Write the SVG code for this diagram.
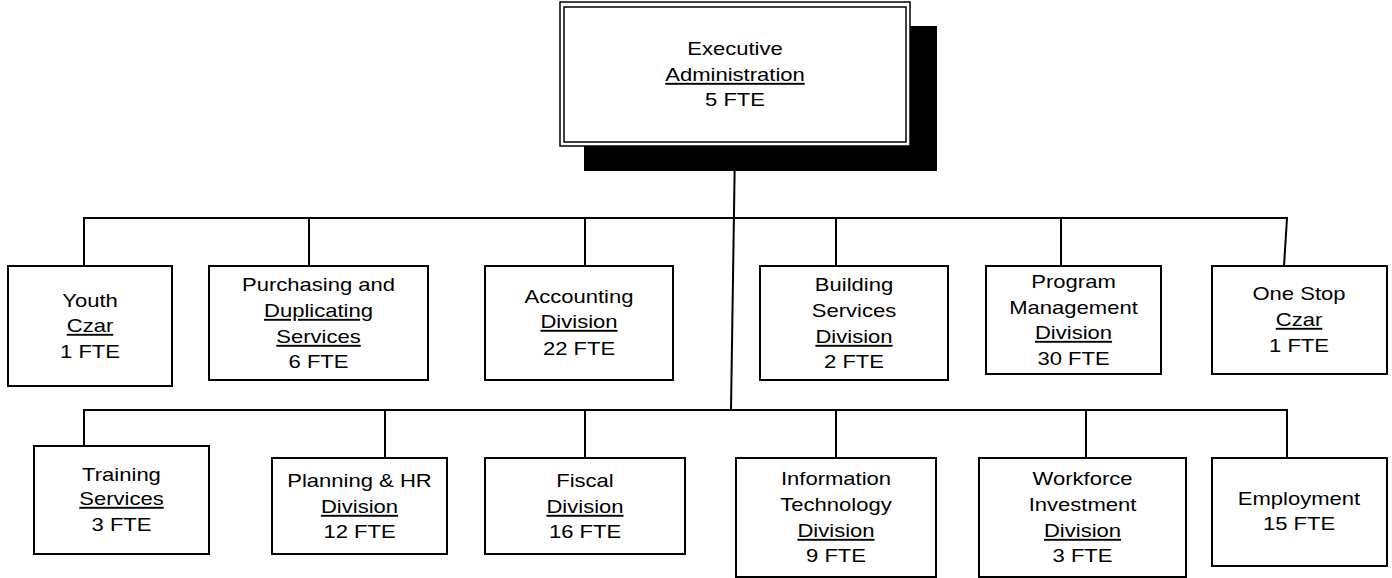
<svg xmlns="http://www.w3.org/2000/svg" width="1392" height="578" viewBox="0 0 1392 578">
<style>
.box{fill:#fff;stroke:#000;stroke-width:2}
.conn line{stroke:#000;stroke-width:2}
text{font-family:"Liberation Sans",Arial,sans-serif;font-size:19px;fill:#000;text-anchor:middle}
.u{text-decoration:underline}
</style>
<rect width="1392" height="578" fill="#fff"/>
<g id="connectors" class="conn">
<line x1="735" y1="146" x2="731" y2="410"/>
<line x1="83" y1="218" x2="1288" y2="218"/>
<line x1="84" y1="218" x2="84" y2="266"/>
<line x1="309" y1="218" x2="309" y2="266"/>
<line x1="585" y1="218" x2="585" y2="266"/>
<line x1="836" y1="218" x2="836" y2="266"/>
<line x1="1061" y1="218" x2="1061" y2="266"/>
<line x1="1287" y1="218" x2="1284" y2="266"/>
<line x1="83" y1="410" x2="1288" y2="410"/>
<line x1="84" y1="410" x2="84" y2="446"/>
<line x1="385" y1="410" x2="385" y2="458"/>
<line x1="585" y1="410" x2="585" y2="458"/>
<line x1="836" y1="410" x2="836" y2="458"/>
<line x1="1086" y1="410" x2="1086" y2="458"/>
<line x1="1287" y1="410" x2="1287" y2="458"/>
</g>
<g id="executive">
<rect x="584" y="26" width="353" height="145" fill="#000"/>
<rect x="560" y="2" width="350" height="144" fill="#fff" stroke="#000" stroke-width="1.5"/>
<rect x="564" y="7" width="342" height="135" fill="none" stroke="#000" stroke-width="1.5"/>
<g transform="translate(735,0) scale(1.16,1)">
<text x="0" y="55">Executive</text>
<text x="0" y="81" class="u">Administration</text>
<text x="0" y="106">5 FTE</text>
</g>
</g>
<g id="youth">
<rect class="box" x="8" y="266" width="164" height="120"/>
<g transform="translate(90,0) scale(1.16,1)">
<text x="0" y="307">Youth</text>
<text x="0" y="332" class="u">Czar</text>
<text x="0" y="358">1 FTE</text>
</g>
</g>
<g id="purchasing">
<rect class="box" x="209" y="266" width="219" height="114"/>
<g transform="translate(318.5,0) scale(1.16,1)">
<text x="0" y="291">Purchasing and</text>
<text x="0" y="317" class="u">Duplicating</text>
<text x="0" y="343" class="u">Services</text>
<text x="0" y="368">6 FTE</text>
</g>
</g>
<g id="accounting">
<rect class="box" x="485" y="266" width="188" height="114"/>
<g transform="translate(579,0) scale(1.16,1)">
<text x="0" y="303">Accounting</text>
<text x="0" y="328" class="u">Division</text>
<text x="0" y="355">22 FTE</text>
</g>
</g>
<g id="building">
<rect class="box" x="760" y="266" width="188" height="114"/>
<g transform="translate(854,0) scale(1.16,1)">
<text x="0" y="291">Building</text>
<text x="0" y="317">Services</text>
<text x="0" y="343" class="u">Division</text>
<text x="0" y="368">2 FTE</text>
</g>
</g>
<g id="program">
<rect class="box" x="986" y="266" width="175" height="108"/>
<g transform="translate(1073.5,0) scale(1.16,1)">
<text x="0" y="288">Program</text>
<text x="0" y="314">Management</text>
<text x="0" y="339" class="u">Division</text>
<text x="0" y="365">30 FTE</text>
</g>
</g>
<g id="onestop">
<rect class="box" x="1212" y="266" width="175" height="108"/>
<g transform="translate(1299,0) scale(1.16,1)">
<text x="0" y="300">One Stop</text>
<text x="0" y="326" class="u">Czar</text>
<text x="0" y="352">1 FTE</text>
</g>
</g>
<g id="training">
<rect class="box" x="34" y="446" width="175" height="108"/>
<g transform="translate(121.5,0) scale(1.16,1)">
<text x="0" y="481">Training</text>
<text x="0" y="505" class="u">Services</text>
<text x="0" y="531">3 FTE</text>
</g>
</g>
<g id="planning">
<rect class="box" x="272" y="458" width="175" height="96"/>
<g transform="translate(359.5,0) scale(1.16,1)">
<text x="0" y="487">Planning &amp; HR</text>
<text x="0" y="513" class="u">Division</text>
<text x="0" y="538">12 FTE</text>
</g>
</g>
<g id="fiscal">
<rect class="box" x="485" y="458" width="200" height="96"/>
<g transform="translate(585,0) scale(1.16,1)">
<text x="0" y="487">Fiscal</text>
<text x="0" y="513" class="u">Division</text>
<text x="0" y="538">16 FTE</text>
</g>
</g>
<g id="infotech">
<rect class="box" x="736" y="458" width="200" height="119"/>
<g transform="translate(836,0) scale(1.16,1)">
<text x="0" y="485">Information</text>
<text x="0" y="511">Technology</text>
<text x="0" y="537" class="u">Division</text>
<text x="0" y="562">9 FTE</text>
</g>
</g>
<g id="workforce">
<rect class="box" x="979" y="458" width="207" height="119"/>
<g transform="translate(1082.5,0) scale(1.16,1)">
<text x="0" y="485">Workforce</text>
<text x="0" y="511">Investment</text>
<text x="0" y="537" class="u">Division</text>
<text x="0" y="562">3 FTE</text>
</g>
</g>
<g id="employment">
<rect class="box" x="1212" y="458" width="175" height="108"/>
<g transform="translate(1299,0) scale(1.16,1)">
<text x="0" y="505">Employment</text>
<text x="0" y="530">15 FTE</text>
</g>
</g>
</svg>
